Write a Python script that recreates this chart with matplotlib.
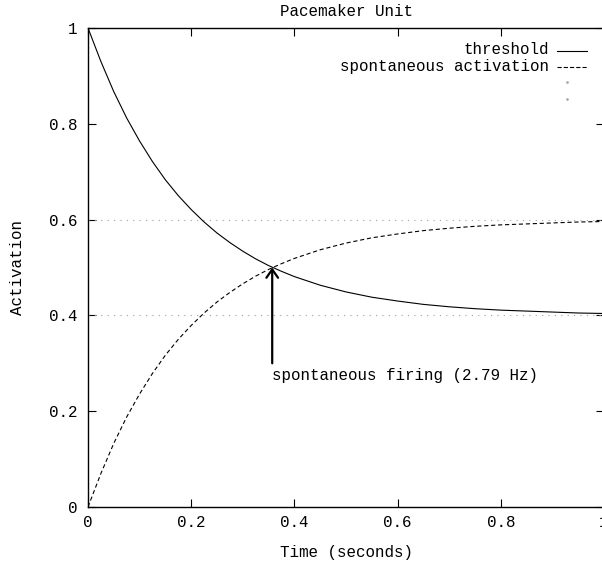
import matplotlib
matplotlib.use('Agg')
import matplotlib.pyplot as plt
from matplotlib.lines import Line2D

plt.rcParams['font.family'] = ['Liberation Mono', 'DejaVu Sans Mono']
plt.rcParams['lines.scale_dashes'] = False

# values
time = [0, 0.025, 0.05, 0.075, 0.1, 0.125, 0.15, 0.175, 0.2, 0.225, 0.25,
        0.275, 0.3, 0.325, 0.35, 0.375, 0.4, 0.45, 0.5, 0.55, 0.6, 0.65,
        0.7, 0.75, 0.8, 0.85, 0.9, 0.95, 1.0]
threshold = [1.000, 0.930, 0.867, 0.812, 0.764, 0.721, 0.683, 0.650, 0.621,
             0.595, 0.572, 0.552, 0.534, 0.518, 0.504, 0.492, 0.481, 0.463,
             0.449, 0.438, 0.430, 0.423, 0.418, 0.414, 0.411, 0.409, 0.407,
             0.405, 0.404]
spontaneous = [0.000, 0.070, 0.133, 0.188, 0.236, 0.279, 0.317, 0.350, 0.379,
               0.405, 0.428, 0.448, 0.466, 0.482, 0.496, 0.508, 0.519, 0.537,
               0.551, 0.562, 0.570, 0.577, 0.582, 0.586, 0.589, 0.591, 0.593,
               0.595, 0.596]
levels = [0.4, 0.6]
firing_t = 0.357
firing_v = 0.5
arrow_base = 0.30
note = 'spontaneous firing (2.79 Hz)'
xticks = [0, 0.2, 0.4, 0.6, 0.8, 1]
xticklabels = ['0', '0.2', '0.4', '0.6', '0.8', '1']
yticks = [0, 0.2, 0.4, 0.6, 0.8, 1]
yticklabels = ['0', '0.2', '0.4', '0.6', '0.8', '1']

W, H = 602, 563
fs = 11.45
fig = plt.figure(figsize=(W / 100, H / 100), dpi=100)
ax = fig.add_axes([88 / W, (H - 507) / H, 516 / W, 479 / H])

for lv in levels:
    ax.axhline(lv, color='#a0a0a0', lw=0.8, linestyle=(0, (0.8, 3.8)))

ax.plot(time, threshold, color='black', lw=0.8)
ax.plot(time, spontaneous, color='black', lw=0.8, linestyle=(0, (3.0, 2.0)))

ax.annotate('', xy=(firing_t, firing_v), xytext=(firing_t, arrow_base),
            arrowprops=dict(arrowstyle='->,head_length=0.4,head_width=0.28',
                            lw=1.6, color='black', mutation_scale=15,
                            shrinkA=0, shrinkB=0))
ax.text(firing_t, arrow_base - 0.0245, note, ha='left', va='center', fontsize=fs)

ax.set_xlim(0, 1)
ax.set_ylim(0, 1)
ax.set_xticks(xticks)
ax.set_xticklabels(xticklabels)
ax.set_yticks(yticks)
ax.set_yticklabels(yticklabels)
ax.tick_params(direction='in', length=5.8, width=0.8, top=True, right=True,
               labelsize=fs)
ax.tick_params(axis='y', pad=7.5)
ax.tick_params(axis='x', pad=6)
for s in ax.spines.values():
    s.set_linewidth(1.0)

# title and axis labels
fig.text(346 / W, 1 - 12 / H, 'Pacemaker Unit', ha='center', va='center', fontsize=fs)
fig.text(18 / W, 1 - 267 / H, 'Activation', ha='center', va='center',
         rotation=90, fontsize=fs)
fig.text(346 / W, 1 - 553 / H, 'Time (seconds)', ha='center', va='center', fontsize=fs)

# key, gnuplot style
fig.text(549 / W, 1 - 50 / H, 'threshold', ha='right', va='center', fontsize=fs)
fig.text(549 / W, 1 - 67 / H, 'spontaneous activation', ha='right', va='center', fontsize=fs)
fig.add_artist(Line2D([557 / W, 587 / W], [1 - 50.5 / H, 1 - 50.5 / H],
                      color='black', lw=0.8, transform=fig.transFigure))
fig.add_artist(Line2D([557 / W, 587 / W], [1 - 67 / H, 1 - 67 / H],
                      color='black', lw=0.8, linestyle=(0, (3.0, 1.5)),
                      transform=fig.transFigure))
for yy in [82, 99]:
    fig.add_artist(Line2D([567 / W], [1 - yy / H], color='#a0a0a0', ls='none',
                          marker='s', markersize=0.8, transform=fig.transFigure))

fig.savefig('out.png', dpi=100)
